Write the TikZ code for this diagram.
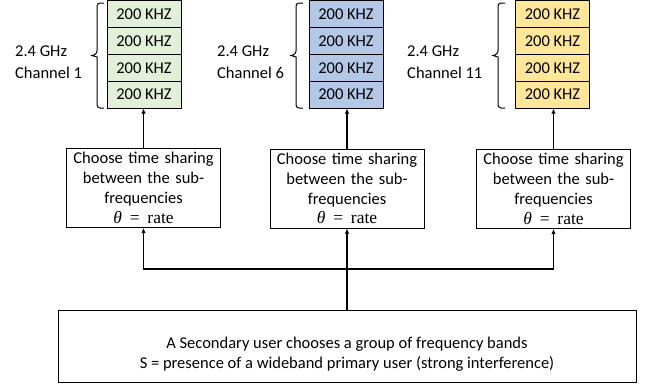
\documentclass[tikz,border=0pt]{standalone}
\usepackage{fontspec}
\setmainfont{Carlito}
\newfontfamily\serifm{Liberation Serif}
\usetikzlibrary{arrows.meta}
\definecolor{cgreen}{HTML}{E2EFD9}
\definecolor{cblue}{HTML}{B4C7E7}
\definecolor{cyellow}{HTML}{FFE699}
\newcommand{\thetarate}{{\serifm\fontsize{17.5}{19.8}\selectfont\itshape θ\upshape\hspace{0.45em}=\hspace{0.45em}rate}}
\begin{document}
\begin{tikzpicture}[x=1pt,y=-1pt,
  font=\fontsize{16.5}{19.8}\selectfont,
  cell/.style={draw=black, line width=1pt, minimum width=74pt, minimum height=26.8pt, inner sep=0pt},
  midbox/.style={draw=black, line width=1pt, text width=152pt, align=center, minimum height=79pt, inner sep=1pt},
  arr/.style={line width=1.1pt, -{Latex[length=5pt,width=4.5pt]}},
  brc/.style={line width=1pt, rounded corners=3pt},
  lbl/.style={anchor=west, align=left, inner sep=0pt, font=\fontsize{16.5}{22}\selectfont}]
\useasboundingbox (0,0) rectangle (645,388);
% stacks
\foreach \cx/\col/\n in {144/cgreen/a, 346/cblue/b, 552.5/cyellow/c}{
  \node[cell, fill=\col] (\n1) at (\cx,14.2) {200 KHZ};
  \node[cell, fill=\col] (\n2) at (\cx,41.0) {200 KHZ};
  \node[cell, fill=\col] (\n3) at (\cx,67.8) {200 KHZ};
  \node[cell, fill=\col] (\n4) at (\cx,94.6) {200 KHZ};
}
% braces
\foreach \bx in {104,303,505}{
  \draw[brc] (\bx,3) -- ++(-7,0) -- ++(0,51) [sharp corners] -- ++(-5,1.5) -- ++(5,1.5) [rounded corners=3pt] -- (\bx-7,108) -- (\bx,108);
}
% labels
\node[lbl] (l1) at (15,62) {2.4 GHz\\Channel 1};
\node[lbl] (l2) at (217,62) {2.4 GHz\\Channel 6};
\node[lbl] (l3) at (407,62) {2.4 GHz\\Channel 11};
% middle boxes
\node[midbox] (m1) at (143.5,188) {Choose time sharing between the sub-\\frequencies\\\thetarate};
\node[midbox] (m2) at (347,188.5) {Choose time sharing between the sub-\\frequencies\\\thetarate};
\node[midbox] (m3) at (553.5,189) {Choose time sharing between the sub-\\frequencies\\\thetarate};
% bottom box
\node[draw=black, line width=1pt, minimum width=578pt, minimum height=72pt, inner sep=0pt] (bot) at (347,346) {};
\node[align=center, inner sep=0pt] (bott) at (347,354) {A Secondary user chooses a group of frequency bands\\S = presence of a wideband primary user (strong interference)};
% arrows
\draw[arr] (m1.north) -- (m1.north |- a4.south);
\draw[arr] (m2.north) -- (m2.north |- b4.south);
\draw[arr] (m3.north) -- (m3.north |- c4.south);
\coordinate (j) at (347,269);
\draw[line width=1.1pt] (bot.north) -- (j);
\draw[arr] (j) -| (m1.south);
\draw[arr] (j) -| (m3.south);
\draw[arr] (j) -- (m2.south);
\end{tikzpicture}
\end{document}
